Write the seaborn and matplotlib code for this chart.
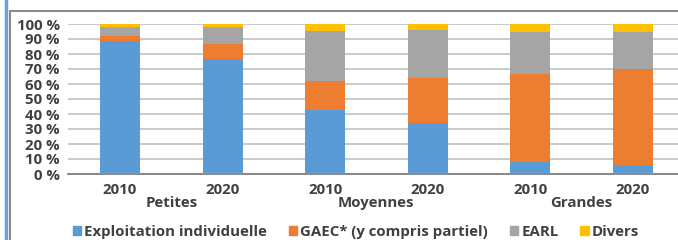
import matplotlib
matplotlib.use("Agg")
import matplotlib.pyplot as plt
from matplotlib.lines import Line2D
import matplotlib.patches as mpatches
import pandas as pd
import seaborn as sns

# --- données (répartition par statut juridique, en %) ---
groupes = ["Petites", "Moyennes", "Grandes"]
annees = ["2010", "2020"]
individuelle = [89, 77, 43, 34, 8, 6]
gaec = [3, 10, 19, 30, 59, 64]
earl = [6, 11, 33.5, 32, 27.5, 25]
divers = [2, 2, 4.5, 4, 5.5, 5]

series = ["Exploitation individuelle", "GAEC* (y compris partiel)", "EARL", "Divers"]
couleurs = ["#5B9BD5", "#ED7D31", "#A5A5A5", "#FFC000"]

barres = [f"{g} {a}" for g in groupes for a in annees]
df = pd.DataFrame({"barre": barres, "Exploitation individuelle": individuelle,
                   "GAEC* (y compris partiel)": gaec, "EARL": earl, "Divers": divers})
cum = df[series].cumsum(axis=1)

sns.set_style("white")
plt.rcParams["font.family"] = ["Open Sans", "DejaVu Sans"]
TXT = "#404040"
FS = 10.8

fig = plt.figure(figsize=(6.78, 2.40), dpi=100)
ax = fig.add_axes([68 / 678, 66 / 240, 610 / 678, 150 / 240])

# empilement : on dessine du haut vers le bas
for s, c in reversed(list(zip(series, couleurs))):
    sns.barplot(x=df["barre"], y=cum[s], color=c, width=0.39, ax=ax,
                saturation=1, linewidth=0, zorder=3)

ax.set_xlim(-0.507, 5.44)
ax.set_ylim(0, 100)
ax.set_yticks(range(0, 101, 10))
ax.set_yticklabels([f"{v} %" for v in range(0, 101, 10)], fontsize=FS,
                   fontweight="bold", color=TXT)
ax.tick_params(axis="y", length=0, pad=6)
ax.grid(axis="y", color="#CACACA", linewidth=1.4, zorder=0)
ax.set_axisbelow(True)
ax.set_xlabel("")
ax.set_ylabel("")
for sp in ["top", "right", "left"]:
    ax.spines[sp].set_visible(False)
ax.spines["bottom"].set_color("#7F7F7F")
ax.spines["bottom"].set_linewidth(1.3)

# graduations : séparateurs de groupes (longs) et entre années (courts)
ax.set_xticks([-0.5, 1.5, 3.5])
ax.set_xticks([0.5, 2.5, 4.5], minor=True)
ax.set_xticklabels([])
ax.tick_params(axis="x", which="major", length=24.5, width=1.5, color="#595959")
ax.tick_params(axis="x", which="minor", length=9.5, width=1.5, color="#595959")

tr = ax.get_xaxis_transform()
for i, b in enumerate(barres):
    ax.text(i, -0.105, annees[i % 2], transform=tr, ha="center", va="center",
            fontsize=FS, fontweight="bold", color=TXT)
for j, g in enumerate(groupes):
    ax.text(2 * j + 0.5, -0.195, g, transform=tr, ha="center", va="center",
            fontsize=FS, fontweight="bold", color=TXT)

handles = [mpatches.Patch(color=c, label=s) for s, c in zip(series, couleurs)]
leg = fig.legend(handles=handles, loc="center", bbox_to_anchor=(356 / 678, 1 - 232 / 240),
                 ncol=4, frameon=False, fontsize=FS, handlelength=0.55, handleheight=0.55,
                 handletextpad=0.22, columnspacing=1.45, labelcolor=TXT)
for t in leg.get_texts():
    t.set_fontweight("bold")

# cadre de la capture
fig.add_artist(Line2D([6 / 678, 6 / 678], [0, 1], color="#6FA0DC", linewidth=2.5))
fig.add_artist(Line2D([10 / 678, 10 / 678], [0, 1 - 11 / 240], color="#8C8C8C", linewidth=1.5))
fig.add_artist(Line2D([10 / 678, 1], [1 - 11 / 240, 1 - 11 / 240], color="#8C8C8C", linewidth=1.5))

fig.savefig("out.png", dpi=100)
